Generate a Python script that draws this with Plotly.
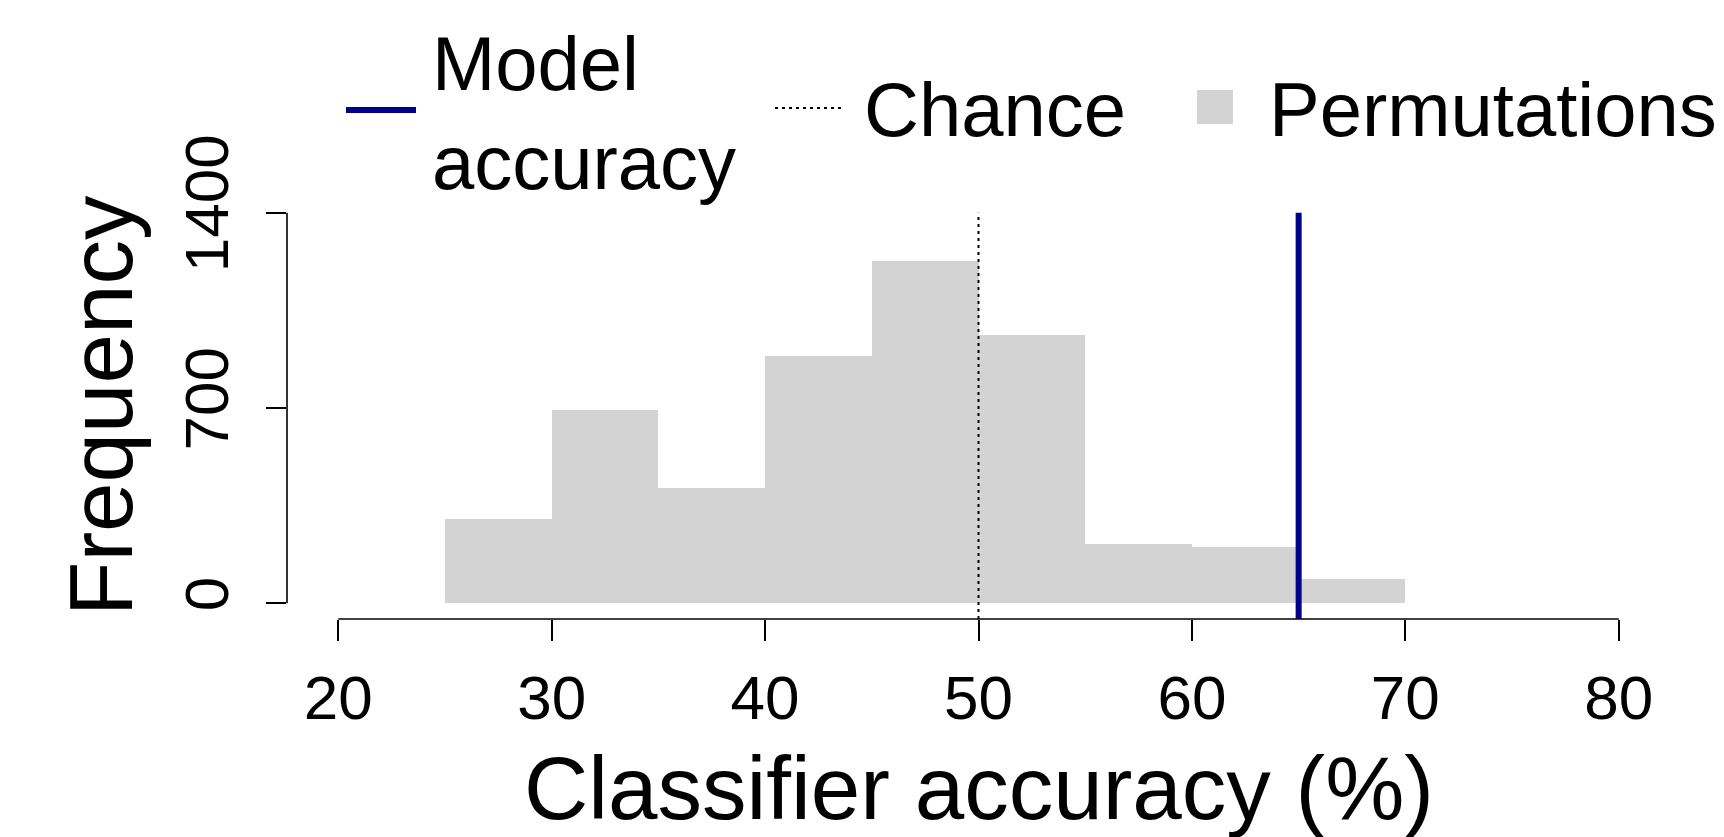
import plotly.graph_objects as go

# ---- data ----
bin_left = [25, 30, 35, 40, 45, 50, 55, 60, 65]
bin_width = 5
perm_counts = [303, 693, 413, 887, 1226, 962, 212, 201, 87]
model_accuracy = 65
chance_level = 50
x_ticks = [20, 30, 40, 50, 60, 70, 80]
y_ticks = [0, 700, 1400]
x_label = "Classifier accuracy (%)"
y_label = "Frequency"
legend_labels = ["Model<br>accuracy", "Chance", "Permutations"]

FONT = "Liberation Sans, Arial, Helvetica, sans-serif"
GREY = "#D3D3D3"
BLUE = "#00008B"

x_range = [17.6, 82.4]
y_range = [-56, 1456]

bin_centers = [b + bin_width / 2 for b in bin_left]

fig = go.Figure()
fig.add_trace(go.Bar(
    x=bin_centers, y=perm_counts, width=bin_width,
    marker=dict(color=GREY, line=dict(width=0)),
    showlegend=False, hoverinfo="x+y",
))
fig.add_trace(go.Scatter(
    x=[chance_level, chance_level], y=[y_range[0], y_ticks[-1]],
    mode="lines", line=dict(color="black", width=2, dash="3px,4px"),
    showlegend=False,
))
fig.add_trace(go.Scatter(
    x=[model_accuracy, model_accuracy], y=[y_range[0], y_ticks[-1]],
    mode="lines", line=dict(color=BLUE, width=6),
    showlegend=False,
))

L, R, T, B = 287, 54, 197, 218
W, H = 1724, 837
PW, PH = W - L - R, H - T - B


def px(xpix):
    return (xpix - L) / PW


def py(ypix):
    return (H - B - ypix) / PH


shapes = [
    # R-style axis lines spanning only the tick range
    dict(type="line", xref="x", yref="paper", x0=x_ticks[0], x1=x_ticks[-1], y0=0, y1=0,
         line=dict(color="black", width=1.6)),
    dict(type="line", xref="paper", yref="y", x0=0, x1=0, y0=y_ticks[0], y1=y_ticks[-1],
         line=dict(color="black", width=1.6)),
    # legend symbols
    dict(type="line", xref="paper", yref="paper", x0=px(346), x1=px(416), y0=py(110), y1=py(110),
         line=dict(color=BLUE, width=6)),
    dict(type="line", xref="paper", yref="paper", x0=px(775), x1=px(845), y0=py(108), y1=py(108),
         line=dict(color="black", width=2, dash="3px,4px")),
    dict(type="rect", xref="paper", yref="paper", x0=px(1197), x1=px(1233), y0=py(124), y1=py(90),
         line=dict(width=0), fillcolor=GREY),
]

annotations = [
    dict(text=legend_labels[0], xref="paper", yref="paper", x=px(430), y=py(113),
         xanchor="left", yanchor="middle", showarrow=False, align="left",
         font=dict(family=FONT, size=76, color="black")),
    dict(text=legend_labels[1], xref="paper", yref="paper", x=px(862), y=py(110),
         xanchor="left", yanchor="middle", showarrow=False,
         font=dict(family=FONT, size=76, color="black")),
    dict(text=legend_labels[2], xref="paper", yref="paper", x=px(1267), y=py(110),
         xanchor="left", yanchor="middle", showarrow=False,
         font=dict(family=FONT, size=76, color="black")),
    dict(text=x_label, xref="paper", yref="paper", x=0.5, y=py(788),
         xanchor="center", yanchor="middle", showarrow=False,
         font=dict(family=FONT, size=89, color="black")),
    dict(text=y_label, xref="paper", yref="paper", x=px(101), y=0.505, textangle=-90,
         xanchor="center", yanchor="middle", showarrow=False,
         font=dict(family=FONT, size=89, color="black")),
]

fig.update_layout(
    width=W, height=H,
    margin=dict(l=L, r=R, t=T, b=B, pad=0),
    paper_bgcolor="white", plot_bgcolor="white",
    font=dict(family=FONT, color="black"),
    showlegend=False,
    bargap=0,
    shapes=shapes,
    annotations=annotations,
    xaxis=dict(
        range=x_range, tickmode="array", tickvals=x_ticks, ticktext=[str(v) for v in x_ticks],
        ticks="outside", ticklen=21, tickwidth=1.6, tickcolor="black",
        showline=False, showgrid=False, zeroline=False,
        tickfont=dict(family=FONT, size=62, color="black"),
        ticklabelstandoff=4,
    ),
    yaxis=dict(
        range=y_range, tickmode="array", tickvals=y_ticks, ticktext=[str(v) for v in y_ticks],
        ticks="outside", ticklen=20, tickwidth=1.6, tickcolor="black", tickangle=-90,
        showline=False, showgrid=False, zeroline=False,
        tickfont=dict(family=FONT, size=62, color="black"),
        ticklabelstandoff=13,
    ),
)

fig.write_html("out.html")
